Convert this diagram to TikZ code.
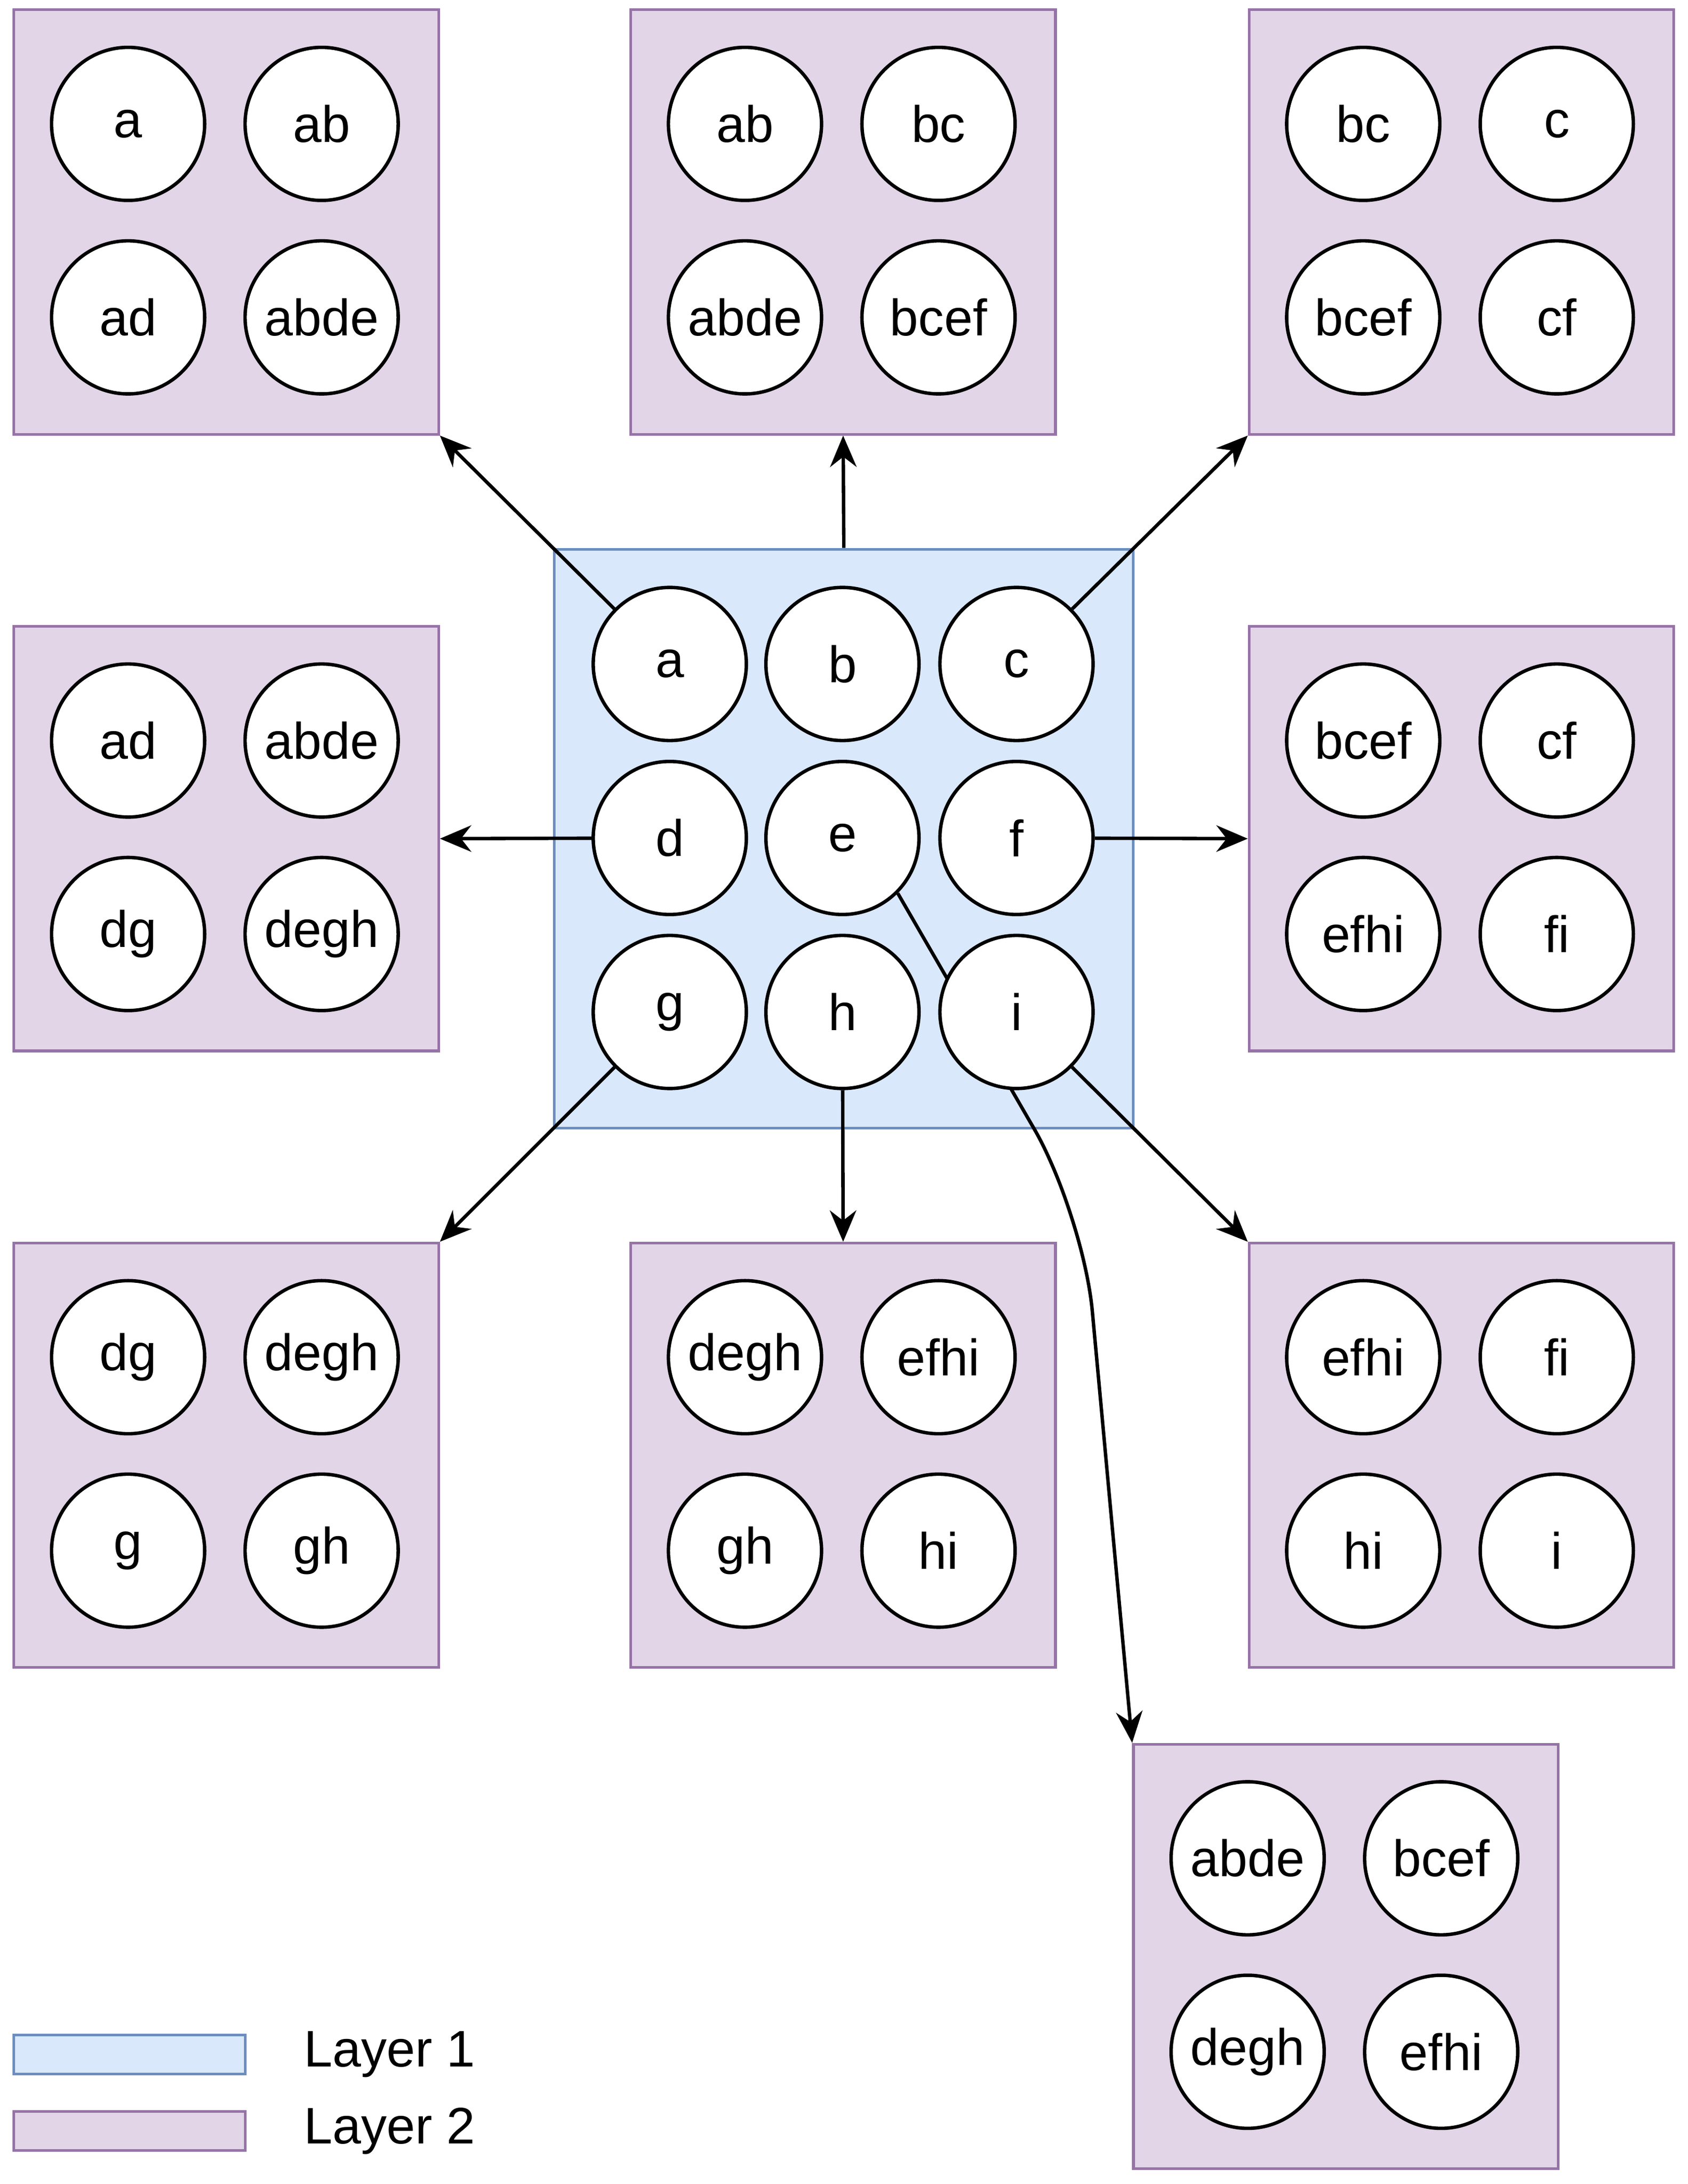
\documentclass[tikz,border=0pt]{standalone}
\usepackage{fontspec}
\setmainfont{Liberation Sans}
\usetikzlibrary{arrows.meta}
\pgfdeclarelayer{background}\pgfdeclarelayer{edges}
\pgfsetlayers{background,edges,main}
\definecolor{bfill}{HTML}{DAE8FC}\definecolor{bdraw}{HTML}{6C8EBF}
\definecolor{pfill}{HTML}{E1D5E7}\definecolor{pdraw}{HTML}{9673A6}
\tikzset{
 circ/.style={circle,draw=black,fill=white,line width=1.4pt,minimum size=2.2cm,inner sep=0pt,font=\fontsize{21}{25}\selectfont},
 pbox/.style={draw=pdraw,fill=pfill,line width=1.1pt,minimum size=6.1cm,inner sep=0pt},
 bbox/.style={draw=bdraw,fill=bfill,line width=1.1pt,minimum size=8.32cm,inner sep=0pt},
 arr/.style={line width=1.4pt,-{Stealth[length=0.45cm,width=0.38cm]}},
 lab/.style={font=\fontsize{21}{25}\selectfont,anchor=west,inner sep=0pt}
}
\newcommand\layerbox[7]{%
 \begin{pgfonlayer}{background}\node[pbox] (#1) at (#2+152.5,#3+152.5) {};\end{pgfonlayer}
 \node[circ] (#1-1) at (#2+82,#3+82) {#4};
 \node[circ] (#1-2) at (#2+221,#3+82) {#5};
 \node[circ] (#1-3) at (#2+82,#3+221) {#6};
 \node[circ] (#1-4) at (#2+221,#3+221) {#7};}
\begin{document}
\begin{tikzpicture}[x=0.02cm,y=-0.02cm]
\useasboundingbox (0,0) rectangle (1212,1569);
\layerbox{tl}{10}{7}{a}{ab}{ad}{abde}
\layerbox{tm}{453}{7}{ab}{bc}{abde}{bcef}
\layerbox{tr}{897}{7}{bc}{c}{bcef}{cf}
\layerbox{ml}{10}{450}{ad}{abde}{dg}{degh}
\layerbox{mr}{897}{450}{bcef}{cf}{efhi}{fi}
\layerbox{bl}{10}{893}{dg}{degh}{g}{gh}
\layerbox{bm}{453}{893}{degh}{efhi}{gh}{hi}
\layerbox{br}{897}{893}{efhi}{fi}{hi}{i}
\layerbox{ex}{814}{1253}{abde}{bcef}{degh}{efhi}
\begin{pgfonlayer}{background}\node[bbox] (blue) at (606,602.5) {};\end{pgfonlayer}
\node[circ] (a) at (481,477) {a};
\node[circ] (b) at (605,477) {b};
\node[circ] (c) at (730,477) {c};
\node[circ] (d) at (481,602) {d};
\node[circ] (e) at (605,602) {e};
\node[circ] (f) at (730,602) {f};
\node[circ] (g) at (481,727) {g};
\node[circ] (h) at (605,727) {h};
\node[circ] (i) at (730,727) {i};
\draw[arr] (a) -- (tl.south east);
\draw[arr] (blue.north) -- (tm.south);
\draw[arr] (c) -- (tr.south west);
\draw[arr] (d) -- (ml.east);
\draw[arr] (f) -- (mr.west);
\draw[arr] (g) -- (bl.north east);
\draw[arr] (h) -- (bm.north);
\draw[arr] (i) -- (br.north west);
\begin{pgfonlayer}{edges}
\coordinate (bend) at (778,872);
\draw[arr,rounded corners=40] (e.-45) -- (bend) -- (ex.north west);
\end{pgfonlayer}
\node[draw=bdraw,fill=bfill,line width=1.1pt,minimum width=3.32cm,minimum height=0.56cm,inner sep=0pt] (l1) at (93,1476) {};
\node[lab] (t1) at (218,1476) {Layer 1};
\node[draw=pdraw,fill=pfill,line width=1.1pt,minimum width=3.32cm,minimum height=0.56cm,inner sep=0pt] (l2) at (93,1531) {};
\node[lab] (t2) at (218,1531) {Layer 2};
\end{tikzpicture}
\end{document}
